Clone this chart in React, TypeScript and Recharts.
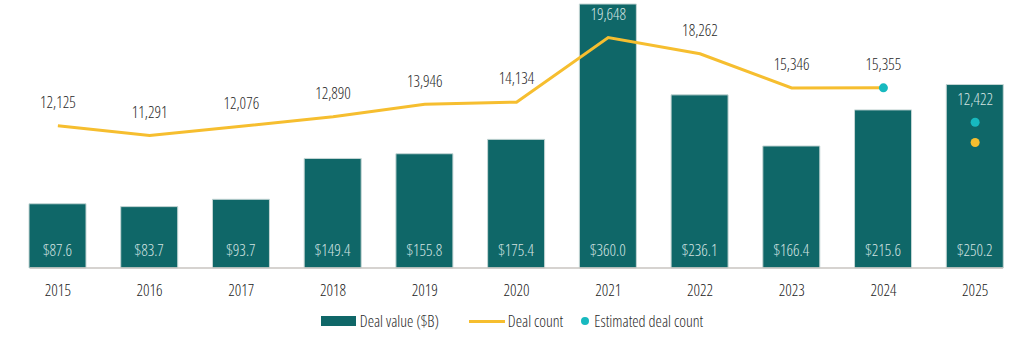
import React from "react";
import {
  ComposedChart,
  Bar,
  Line,
  XAxis,
  YAxis,
  LabelList,
  Legend,
  ReferenceLine,
} from "recharts";

const years = ["2015", "2016", "2017", "2018", "2019", "2020", "2021", "2022", "2023", "2024", "2025"];
const dealValue = [87.6, 83.7, 93.7, 149.4, 155.8, 175.4, 360.0, 236.1, 166.4, 215.6, 250.2];
const dealCount: (number | null)[] = [12125, 11291, 12076, 12890, 13946, 14134, 19648, 18262, 15346, 15355, null];
const dealCountPartial: (number | null)[] = [null, null, null, null, null, null, null, null, null, null, 10700];
const estimatedCount: (number | null)[] = [null, null, null, null, null, null, null, null, null, 15355, 12422];

const data = years.map((y, i) => ({
  year: y,
  value: dealValue[i],
  count: dealCount[i],
  partial: dealCountPartial[i],
  estimated: estimatedCount[i],
}));

const TEAL = "#0f6768";
const YELLOW = "#f6be2f";
const CYAN = "#17b9bf";
const FONT = "'Open Sans', 'Noto Sans', sans-serif";
const TXT: React.CSSProperties = { fontFamily: FONT, fontStretch: "75%", fontWeight: 300 };
const FS = 16;
const INSIDE_BAR = [6];

const fmt = (v: number) => v.toLocaleString("en-US");

const CountLabel = (props: any) => {
  const { x, y, value, index } = props;
  if (value == null) return null;
  const inside = INSIDE_BAR.includes(index);
  return (
    <text
      x={x}
      y={y - 22}
      textAnchor="middle"
      dominantBaseline="middle"
      style={TXT}
      fontSize={FS}
      fill={inside ? "#d3e3e2" : "#2a2a2a"}
    >
      {fmt(value)}
    </text>
  );
};

const EstLabel = (props: any) => {
  const { x, y, value, index } = props;
  if (value == null || index !== 10) return null;
  return (
    <text
      x={x}
      y={y - 22}
      textAnchor="middle"
      dominantBaseline="middle"
      style={TXT}
      fontSize={FS}
      fill="#d3e3e2"
    >
      {fmt(value)}
    </text>
  );
};

const LegendContent = () => (
  <div
    style={{
      ...TXT,
      fontStretch: "85%",
      display: "flex",
      justifyContent: "center",
      alignItems: "center",
      fontSize: FS,
      color: "#2a2a2a",
    }}
  >
    <span style={{ display: "inline-block", width: 35, height: 10, background: TEAL, marginRight: 4 }} />
    <span style={{ marginRight: 30 }}>Deal value ($B)</span>
    <span style={{ display: "inline-block", width: 36, height: 3, background: YELLOW, marginRight: 3 }} />
    <span style={{ marginRight: 18 }}>Deal count</span>
    <span
      style={{ display: "inline-block", width: 8, height: 8, borderRadius: 4, background: CYAN, marginRight: 5 }}
    />
    <span>Estimated deal count</span>
  </div>
);

const Baseline = (props: any) => {
  const { x1, x2, y1 } = props;
  if (x1 == null) return null;
  return <line x1={x1 + 18} x2={x2 - 18} y1={y1} y2={y1} stroke="#c9c4c0" strokeWidth={1.5} />;
};

export default function App() {
  return (
    <div style={{ ...TXT, position: "absolute", left: 0, top: 0, width: 1024, height: 342, background: "#fff" }}>
      <ComposedChart
        width={1024}
        height={342}
        data={data}
        margin={{ top: 4, right: 3, left: 12, bottom: 0 }}
      >
        <XAxis
          dataKey="year"
          axisLine={false}
          tickLine={false}
          tickMargin={11}
          height={74}
          tick={{ fontSize: FS, fill: "#222", style: TXT }}
          interval={0}
        />
        <YAxis yAxisId="left" hide domain={[0, 360]} />
        <YAxis yAxisId="right" orientation="right" hide domain={[0, 22500]} />
        <Bar yAxisId="left" dataKey="value" fill={TEAL} stroke="#c5d6d5" strokeWidth={1} barSize={57} isAnimationActive={false}>
          <LabelList
            dataKey="value"
            position="insideBottom"
            offset={12}
            formatter={(v: any) => `$${Number(v).toFixed(1)}`}
            style={{ ...TXT, fontSize: FS, fill: "#d3e3e2" }}
          />
        </Bar>
        <ReferenceLine yAxisId="left" y={0} shape={Baseline} />
        <Line
          yAxisId="right"
          dataKey="count"
          stroke={YELLOW}
          strokeWidth={3}
          dot={false}
          isAnimationActive={false}
        >
          <LabelList dataKey="count" content={CountLabel} />
        </Line>
        <Line
          yAxisId="right"
          dataKey="partial"
          stroke="none"
          dot={{ r: 4.5, fill: YELLOW, stroke: "none" }}
          isAnimationActive={false}
        />
        <Line
          yAxisId="right"
          dataKey="estimated"
          stroke="none"
          dot={{ r: 4.5, fill: CYAN, stroke: "none" }}
          isAnimationActive={false}
        >
          <LabelList dataKey="estimated" content={EstLabel} />
        </Line>
        <Legend verticalAlign="middle" wrapperStyle={{ top: 310, left: 0, width: 1024 }} content={LegendContent} />
      </ComposedChart>
    </div>
  );
}
